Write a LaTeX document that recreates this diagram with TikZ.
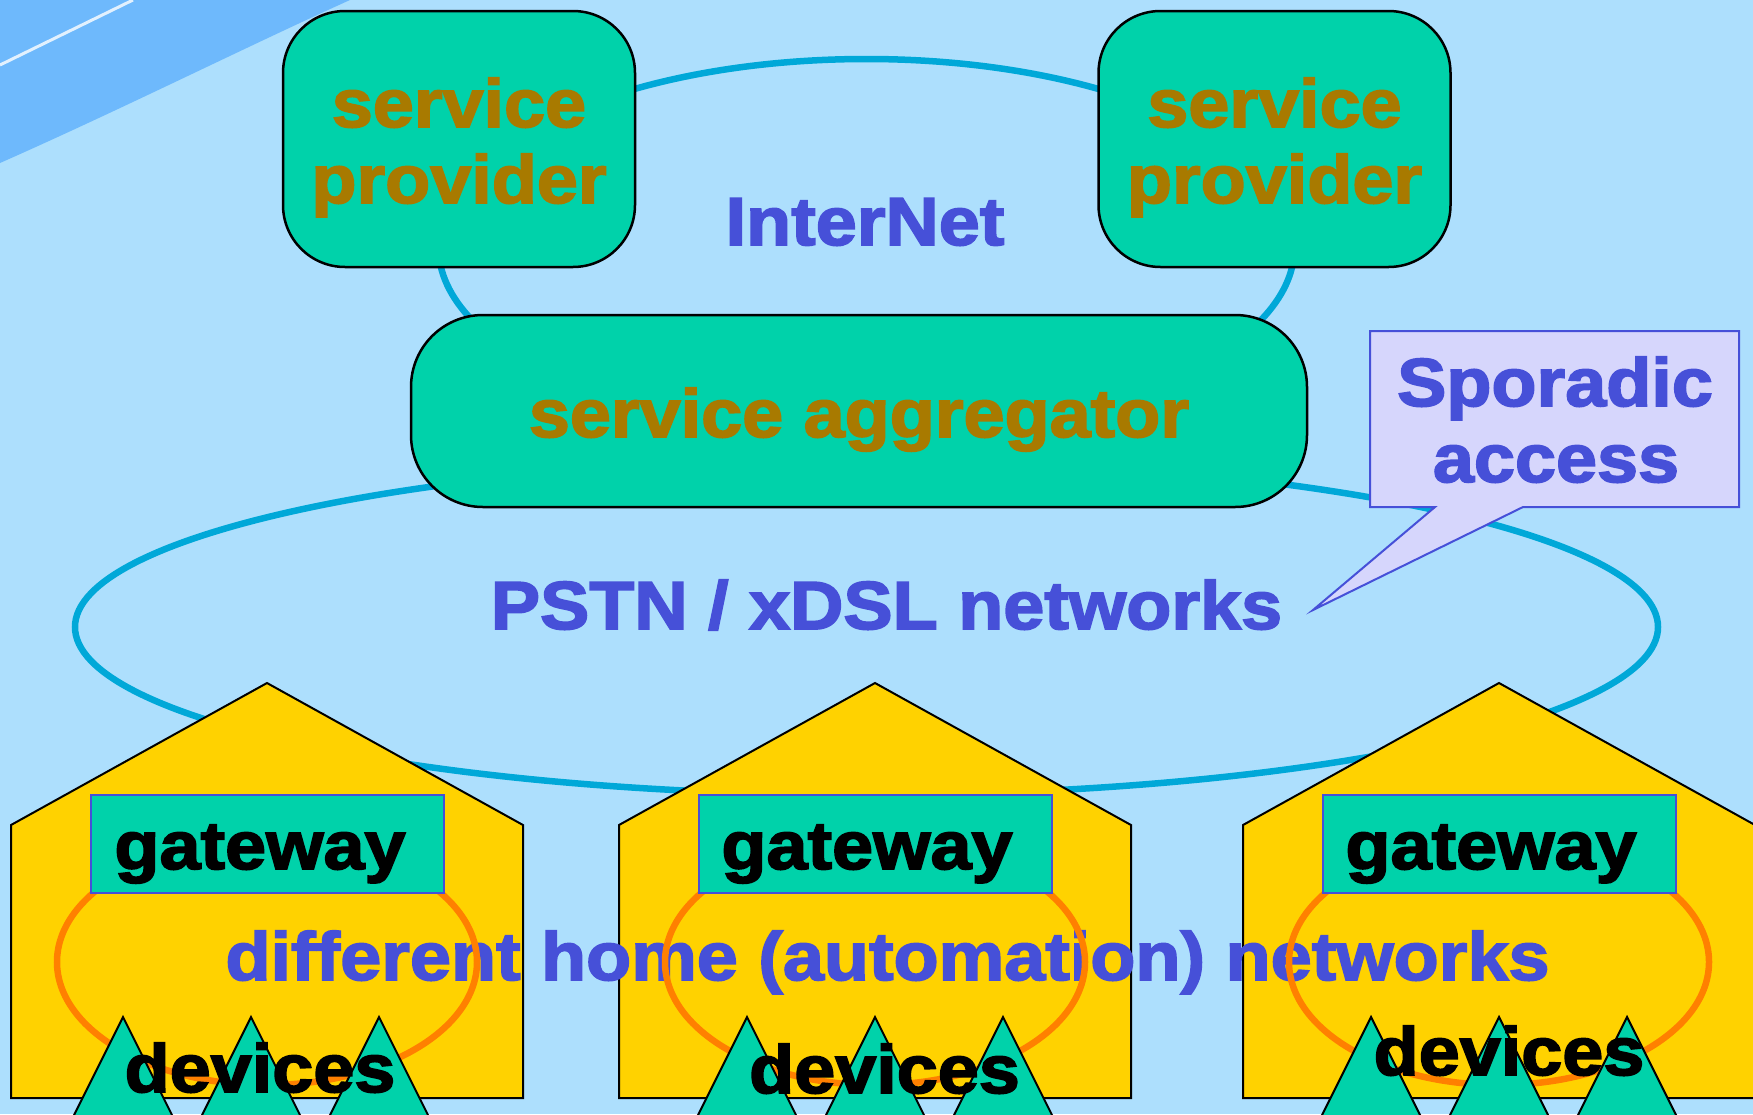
\documentclass[tikz,border=0pt]{standalone}
\usepackage{fontspec}
\setmainfont[FakeStretch=1.085, BoldFeatures={FakeBold=2.5}]{Liberation Sans}
\definecolor{bgblue}{HTML}{ADDFFD}
\definecolor{darkblue}{HTML}{6EB9FC}
\definecolor{cyanline}{HTML}{00A8D8}
\definecolor{tealfill}{HTML}{00D2AA}
\definecolor{browntext}{HTML}{A87A00}
\definecolor{bluetext}{HTML}{4650D8}
\definecolor{housey}{HTML}{FFD200}
\definecolor{orangel}{HTML}{FF8000}
\definecolor{callfill}{HTML}{D6D6FC}
\begin{document}
\begin{tikzpicture}[x=1pt,y=-1pt,
  spbox/.style={draw=black, line width=2.5, fill=tealfill, rounded corners=62, minimum width=352, minimum height=256, inner sep=0},
  aggbox/.style={draw=black, line width=2.5, fill=tealfill, rounded corners=72, minimum width=896, minimum height=192, inner sep=0},
  gwbox/.style={draw=bluetext, line width=2, fill=tealfill, minimum width=353, minimum height=98, inner sep=0},
  lbl/.style={font=\fontsize{68}{76}\selectfont\bfseries, inner sep=0, anchor=base},
  housepoly/.style={draw=black, line width=2, fill=housey},
  devtri/.style={draw=black, line width=2, fill=tealfill},
  homenet/.style={draw=orangel, line width=6.5},
  netline/.style={draw=cyanline, line width=6.5}
]
\clip (0,0) rectangle (1753,1114);
\fill[bgblue] (0,0) rectangle (1753,1114);
\fill[darkblue] (0,0) -- (350,0) .. controls (250,45) and (120,110) .. (0,163) -- cycle;
\draw[white!80!darkblue, line width=3] (0,65) -- (133,0);

% networks
\draw[netline] (866.5,247) ellipse [x radius=428, y radius=188];
\draw[netline] (866.5,627) ellipse [x radius=791.5, y radius=168];

% service providers
\node[spbox] (sp1) at (459,139) {};
\node[spbox] (sp2) at (1274.5,139) {};
\node[lbl, text=browntext] (sp1a) at (459,127) {service};
\node[lbl, text=browntext] (sp1b) at (459,203) {provider};
\node[lbl, text=browntext] (sp2a) at (1274.5,127) {service};
\node[lbl, text=browntext] (sp2b) at (1274.5,203) {provider};

\node[lbl, text=bluetext] (inet) at (865,245) {InterNet};

% aggregator
\node[aggbox] (agg) at (859,411) {};
\node[lbl, text=browntext] (aggt) at (859,437) {service aggregator};

\node[lbl, text=bluetext] (pstn) at (886.5,629) {PSTN / xDSL networks};

% callout
\draw[draw=bluetext, line width=2, fill=callfill] (1370,331) -- (1739,331) -- (1739,507) -- (1523,507) -- (1313,610) -- (1435,507) -- (1370,507) -- cycle;
\node[lbl, text=bluetext] (spor1) at (1555,406) {Sporadic};
\node[lbl, text=bluetext] (spor2) at (1556,482) {access};

% houses
\foreach \L/\R/\C in {11/523/267, 619/1131/875, 1243/1755/1499}{
  \draw[housepoly] (\L,1098) -- (\L,825) -- (\C,683) -- (\R,825) -- (\R,1098) -- cycle;
}

\node[lbl, text=bluetext] (homes) at (887.5,980) {different home (automation) networks};

\foreach \C/\n in {267/1, 875/2, 1499/3}{
  \draw[homenet] (\C,962) ellipse [x radius=210, y radius=123];
  \node[gwbox] (gw\n) at (\C,844) {};
}
\node[lbl] (gw1t) at (260,869) {gateway};
\node[lbl] (gw2t) at (867,869) {gateway};
\node[lbl] (gw3t) at (1491,869) {gateway};

\foreach \T in {123,251,379, 747,875,1003, 1371,1499,1627}{
  \draw[devtri] (\T,1017) -- (\T+56.5,1130) -- (\T-56.5,1130) -- cycle;
}
\node[lbl] (dev1) at (260,1092) {devices};
\node[lbl] (dev2) at (884.5,1093) {devices};
\node[lbl] (dev3) at (1509,1075) {devices};
\end{tikzpicture}
\end{document}
